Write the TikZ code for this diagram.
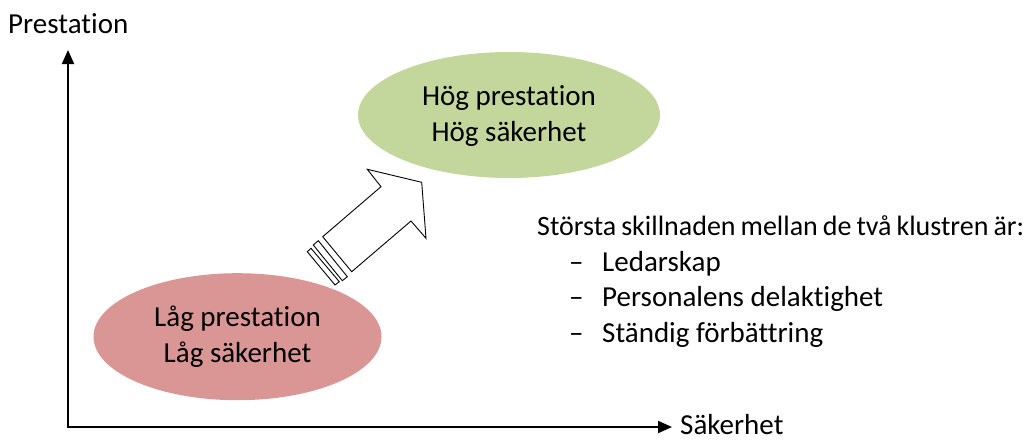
\documentclass[tikz,border=0pt]{standalone}
\usepackage{fontspec}
\setmainfont{Carlito}[Ligatures={NoCommon}]
\usetikzlibrary{arrows.meta,shapes.geometric}
\definecolor{hiGreen}{HTML}{C3D69B}
\definecolor{loRed}{HTML}{D99694}
\tikzset{
  lbl/.style={inner sep=0pt, font=\fontsize{29}{35}\selectfont},
  blob/.style={ellipse, draw=none, inner sep=0pt},
  axisline/.style={line width=2pt, {Triangle[length=14pt,width=12pt]}-{Triangle[length=14pt,width=12pt]}},
  blockarrow/.style={draw=black, fill=white, line width=0.9pt, line join=miter},
}
\begin{document}
\begin{tikzpicture}[x=1pt,y=-1pt]
\useasboundingbox (0,0) rectangle (1030,439);
% ellipses
\node[blob, fill=hiGreen, minimum width=302pt, minimum height=126pt] (hi) at (509,115) {};
\node[blob, fill=loRed, minimum width=288pt, minimum height=127pt] (lo) at (237.5,336.7) {};
% axes
\coordinate (ytop) at (68,50);
\coordinate (orig) at (68,427);
\coordinate (xend) at (672,427);
\draw[axisline] (ytop) -- (orig) -- (xend);
\node[lbl, anchor=base west] (ylab) at (8,33) {Prestation};
\node[lbl, anchor=base west] (xlab) at (680,434.5) {Säkerhet};
% ellipse texts
\node[lbl, anchor=base] (hi1) at (509,105) {Hög prestation};
\node[lbl, anchor=base] (hi2) at (509,141) {Hög säkerhet};
\node[lbl, anchor=base] (lo1) at (237.5,326) {Låg prestation};
\node[lbl, anchor=base] (lo2) at (237.5,362) {Låg säkerhet};
% striped block arrow
\draw[blockarrow] (322.7,236.7) -- (381,186.7) -- (367.3,169.3) -- (421.7,182.3)
  -- (426,238.3) -- (411,221) -- (351.7,271.7) -- cycle;
\draw[blockarrow] (313.3,245) -- (318.3,240.7) -- (347.3,276.7) -- (342.3,280.7) -- cycle;
\draw[blockarrow] (307.3,251.7) -- (311,248.3) -- (339.3,281.7) -- (335,285) -- cycle;
% list
\node[lbl, anchor=base west, font=\fontsize{28}{35}\selectfont] (head) at (537,235) {\spaceskip=5pt plus 1pt minus 1pt\relax Största skillnaden mellan de två klustren är:};
\node[lbl, anchor=base west] (d1) at (569,271) {–};
\node[lbl, anchor=base west] (d2) at (569,306.5) {–};
\node[lbl, anchor=base west] (d3) at (569,342) {–};
\node[lbl, anchor=base west] (i1) at (602,271) {Ledarskap};
\node[lbl, anchor=base west] (i2) at (602,306.5) {Personalens delaktighet};
\node[lbl, anchor=base west] (i3) at (602,342) {Ständig förbättring};
\end{tikzpicture}
\end{document}
